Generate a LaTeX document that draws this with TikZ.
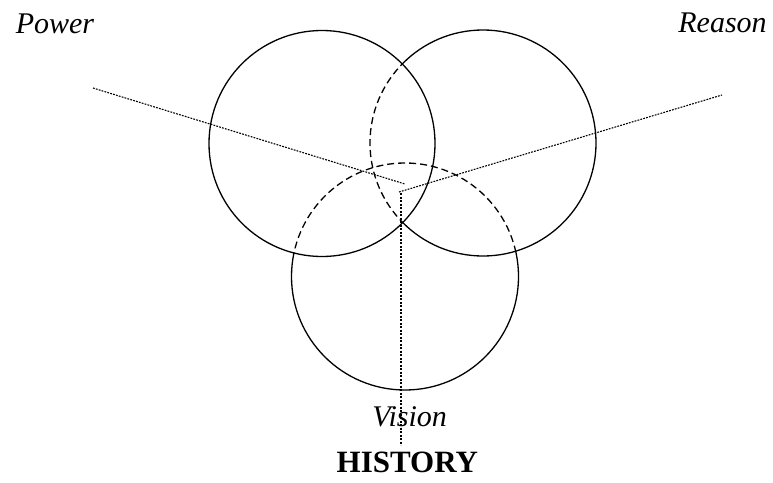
\documentclass[tikz,border=0pt]{standalone}
\usepackage{fontspec}
\setmainfont{Liberation Serif}
\begin{document}
\begin{tikzpicture}[x=1pt,y=-1pt,
  ring/.style={line width=1.3pt},
  hidden/.style={line width=1.3pt,dash pattern=on 7pt off 4pt},
  axis/.style={line width=1.1pt,dash pattern=on 1.8pt off 1.2pt},
  spine/.style={line width=1.7pt,dash pattern=on 2.4pt off 1.1pt},
  lbl/.style={font=\fontsize{30}{36}\selectfont\itshape,anchor=base,inner sep=0pt},
  ttl/.style={font=\fontsize{31}{37}\selectfont\bfseries,anchor=base,inner sep=0pt}]
\useasboundingbox (0,0) rectangle (773,482);
\coordinate (L) at (322,143.5);
\coordinate (R) at (483,143);
\coordinate (B) at (405,276.5);
\coordinate (pw) at (93,88);
\coordinate (hubL) at (405,184);
\coordinate (hubR) at (399,192);
\coordinate (rs) at (722,95);
\coordinate (vtop) at (401,193);
\coordinate (vbot) at (401,445);
% left circle
\draw[ring] (L) circle[radius=113];
% right circle
\begin{scope}
  \clip (L) circle[radius=113];
  \draw[hidden] (R) circle[radius=113];
\end{scope}
\begin{scope}[even odd rule]
  \clip (-10,-10) rectangle (790,500) (L) circle[radius=113];
  \draw[ring] (R) circle[radius=113];
\end{scope}
% bottom circle
\begin{scope}
  \clip (L) circle[radius=113] (R) circle[radius=113];
  \draw[hidden] (B) circle[radius=113.5];
\end{scope}
\begin{scope}[even odd rule]
  \clip (-10,-10) rectangle (790,500) (L) circle[radius=113];
  \begin{scope}
    \clip (-10,-10) rectangle (790,500) (R) circle[radius=113];
    \draw[ring] (B) circle[radius=113.5];
  \end{scope}
\end{scope}
% axes
\draw[axis] (pw) -- (hubL);
\draw[axis] (hubR) -- (rs);
\draw[spine] (vtop) -- (vbot);
% labels
\node[lbl] (power) at (55,33.3) {Power};
\node[lbl] (reason) at (722.5,32.3) {Reason};
\node[lbl] (vision) at (409.7,426.7) {Vision};
\node[ttl] (history) at (407.3,472.3) {HISTORY};
\end{tikzpicture}
\end{document}
